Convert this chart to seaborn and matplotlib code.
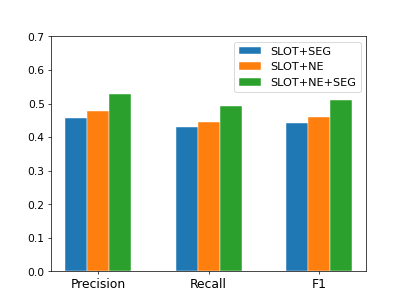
import matplotlib
matplotlib.use("Agg")
import matplotlib.pyplot as plt
import seaborn as sns
import pandas as pd

metrics = ["Precision", "Recall", "F1"]
models = ["SLOT+SEG", "SLOT+NE", "SLOT+NE+SEG"]
slot_seg = [0.457, 0.429, 0.443]
slot_ne = [0.479, 0.445, 0.461]
slot_ne_seg = [0.527, 0.494, 0.509]

rows = []
for m, vals in zip(models, [slot_seg, slot_ne, slot_ne_seg]):
    for met, v in zip(metrics, vals):
        rows.append({"metric": met, "model": m, "value": v})
df = pd.DataFrame(rows)

fig, ax = plt.subplots(figsize=(6.4, 4.8), dpi=63.6)
sns.barplot(data=df, x="metric", y="value", hue="model", hue_order=models,
            order=metrics, width=0.6, saturation=1,
            palette=["#1f77b4", "#ff7f0e", "#2ca02c"],
            edgecolor="white", linewidth=0.5, ax=ax, errorbar=None)
ax.set_xlabel("")
ax.set_ylabel("")
ax.set_ylim(0, 0.7)
ax.set_xlim(-0.43, 2.43)
ax.tick_params(axis="x", labelsize=14)
ax.tick_params(axis="y", labelsize=12)
ax.legend(loc="upper right", fontsize=12.7, labelspacing=0.5, title=None)
fig.savefig("out.png", dpi=63.6)
